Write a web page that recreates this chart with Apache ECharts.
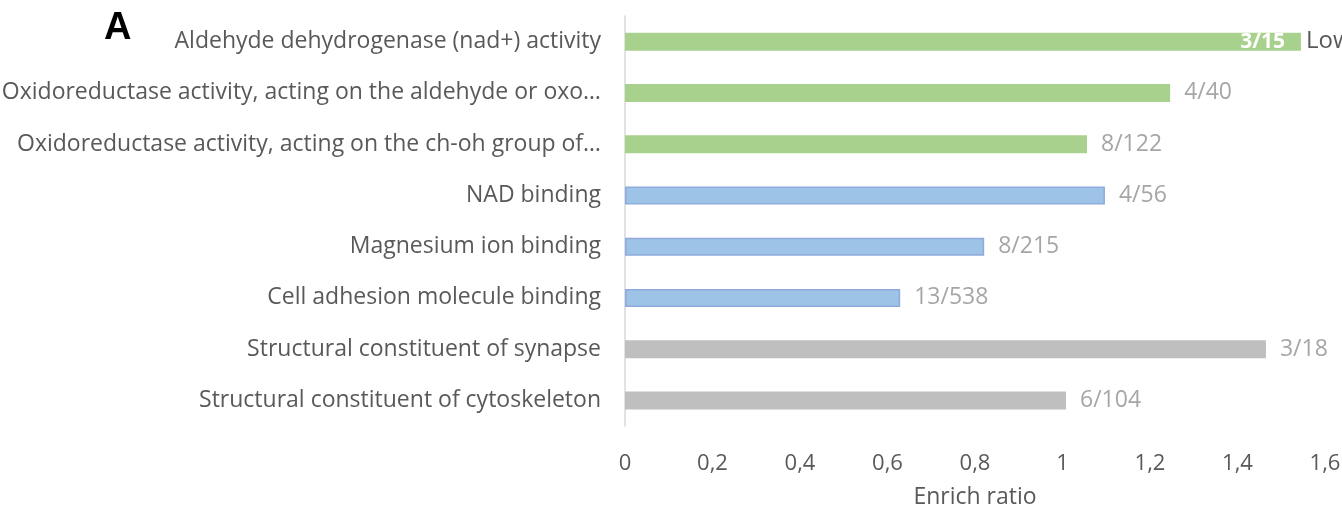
<!DOCTYPE html>
<html>
<head>
<meta charset="utf-8">
<script src="https://cdn.jsdelivr.net/npm/echarts@6/dist/echarts.min.js"></script>
<style>
  html, body { margin: 0; padding: 0; background: #fff; }
  #chart { width: 1342px; height: 509px; }
</style>
</head>
<body>
<div id="chart"></div>
<script>
// GO terms, top to bottom
const categories = [
  'Aldehyde dehydrogenase (nad+) activity',
  'Oxidoreductase activity, acting on the aldehyde or oxo…',
  'Oxidoreductase activity, acting on the ch-oh group of…',
  'NAD binding',
  'Magnesium ion binding',
  'Cell adhesion molecule binding',
  'Structural constituent of synapse',
  'Structural constituent of cytoskeleton'
]
const enrichRatio = [1.545, 1.246, 1.056, 1.097, 0.821, 0.629, 1.465, 1.008]
const geneCounts = ['3/15', '4/40', '8/122', '4/56', '8/215', '13/538', '3/18', '6/104']
const groups = ['green', 'green', 'green', 'blue', 'blue', 'blue', 'gray', 'gray']
const xTicks = [0, 0.2, 0.4, 0.6, 0.8, 1, 1.2, 1.4, 1.6]

const fill = { green: '#a9d18e', blue: '#9dc3e6', gray: '#bfbfbf' }
const border = { green: '#a9d18e', blue: '#8faadc', gray: '#bfbfbf' }
const font = '"Open Sans", "Noto Sans", sans-serif'

const chart = echarts.init(document.getElementById('chart'))

const barData = enrichRatio.map((v, i) => {
  const item = {
    value: v,
    itemStyle: {
      color: fill[groups[i]],
      borderColor: border[groups[i]],
      borderWidth: groups[i] === 'blue' ? 1.5 : 0
    }
  }
  if (i === 0) {
    item.label = {
      position: 'insideRight',
      distance: 16,
      color: '#ffffff',
      fontWeight: 'bold',
      fontSize: 21
    }
  }
  return item
})

chart.setOption({
  animation: false,
  textStyle: { fontFamily: font },
  graphic: [{
    type: 'text',
    left: 104,
    top: 10,
    style: { text: 'A', font: 'bold 38px "Liberation Sans", Arial, sans-serif', fill: '#000' }
  }],
  grid: { left: 625, right: 17, top: 16, height: 410, outerBoundsMode: 'none' },
  xAxis: {
    type: 'value',
    min: 0,
    max: 1.6,
    interval: 0.2,
    axisLine: { show: false },
    axisTick: { show: false },
    splitLine: { show: false },
    axisLabel: {
      margin: 27,
      color: '#595959',
      fontSize: 22,
      fontFamily: font,
      formatter: v => {
        const t = xTicks.find(x => Math.abs(x - v) < 1e-9)
        return t === undefined ? '' : String(t).replace('.', ',')
      }
    },
    name: 'Enrich ratio',
    nameLocation: 'middle',
    nameGap: 60,
    nameTextStyle: { color: '#595959', fontSize: 23, fontFamily: font }
  },
  yAxis: {
    type: 'category',
    data: categories,
    inverse: true,
    axisLine: { show: true, lineStyle: { color: '#d9d9d9', width: 1.5 } },
    axisTick: { show: false },
    axisLabel: {
      margin: 24,
      color: '#595959',
      fontSize: 23,
      fontFamily: font
    }
  },
  series: [{
    type: 'bar',
    barWidth: 18,
    data: barData,
    label: {
      show: true,
      position: 'right',
      distance: 14,
      color: '#a6a6a6',
      fontSize: 23,
      fontFamily: font,
      formatter: p => geneCounts[p.dataIndex]
    },
    markPoint: {
      symbol: 'circle',
      symbolSize: 0,
      data: [{ coord: [enrichRatio[0], categories[0]] }],
      label: {
        show: true,
        position: 'right',
        distance: 5,
        color: '#595959',
        fontSize: 24,
        fontFamily: font,
        formatter: 'Low'
      }
    }
  }]
})
</script>
</body>
</html>
